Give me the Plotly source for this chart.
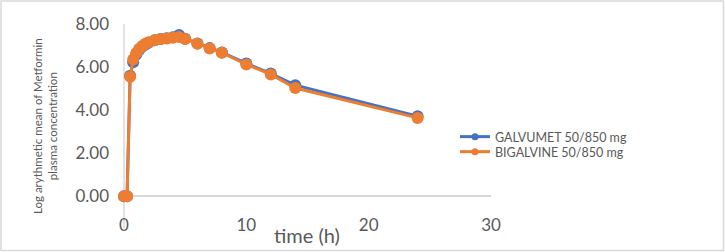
import plotly.graph_objects as go

time_h = [0, 0.25, 0.5, 0.75, 1, 1.25, 1.5, 1.75, 2, 2.5, 3, 3.5, 4, 4.5, 5, 6, 7, 8, 10, 12, 14, 24]
galvumet = [0, 0, 5.60, 6.22, 6.58, 6.80, 6.95, 7.05, 7.13, 7.24, 7.30, 7.34, 7.38, 7.49, 7.32, 7.10, 6.88, 6.68, 6.17, 5.70, 5.16, 3.72]
bigalvine = [0, 0, 5.55, 6.35, 6.65, 6.85, 6.98, 7.08, 7.15, 7.25, 7.30, 7.33, 7.36, 7.40, 7.30, 7.08, 6.86, 6.67, 6.12, 5.66, 5.03, 3.64]
series_names = ["GALVUMET 50/850 mg", "BIGALVINE 50/850 mg"]
x_ticks = [0, 10, 20, 30]
y_ticks = [0, 2, 4, 6, 8]

BLUE = "#4472C4"
ORANGE = "#ED7D31"
GRAY = "#595959"
LINE = "#D9D9D9"
FONT = "Lato"

W, H = 725, 252
L, R, T, B = 124, 234, 24, 46
pw, ph = W - L - R, H - T - B

def px_x(p):
    return (p - L) / pw

def px_y(p):
    return (H - B - p) / ph

fig = go.Figure()
for vals, name, col in [(galvumet, series_names[0], BLUE), (bigalvine, series_names[1], ORANGE)]:
    fig.add_trace(go.Scatter(
        x=time_h, y=vals, mode="lines+markers", name=name, showlegend=False,
        line=dict(color=col, width=3), marker=dict(color=col, size=12),
        cliponaxis=False,
    ))
for name, col, lg in [(series_names[0], BLUE, "legend"), (series_names[1], ORANGE, "legend2")]:
    fig.add_trace(go.Scatter(
        x=[None], y=[None], mode="lines+markers", name=name, legend=lg,
        line=dict(color=col, width=3), marker=dict(color=col, size=7),
    ))

leg_common = dict(xanchor="left", yanchor="top", font=dict(size=12.5, color=GRAY),
                  bgcolor="rgba(0,0,0,0)", itemwidth=30)

fig.update_layout(
    width=W, height=H,
    margin=dict(l=L, r=R, t=T, b=B),
    paper_bgcolor="white", plot_bgcolor="white",
    font=dict(family=FONT, color=GRAY),
    xaxis=dict(range=[0, 30], tickvals=x_ticks, showgrid=False, zeroline=False,
               showline=False, ticks="", tickfont=dict(size=17, color=GRAY),
               ticklabelstandoff=7),
    yaxis=dict(range=[-0.45, 8], tickvals=y_ticks, tickformat=".2f", showgrid=False,
               zeroline=True, zerolinecolor=LINE, zerolinewidth=1.5,
               showline=False, ticks="", tickfont=dict(size=17, color=GRAY),
               ticklabelstandoff=14),
    legend=dict(x=px_x(455), y=px_y(122), **leg_common),
    legend2=dict(x=px_x(455), y=px_y(137), **leg_common),
    showlegend=True,
)

fig.add_shape(type="line", xref="paper", yref="paper",
              x0=0, x1=0, y0=px_y(228), y1=1,
              line=dict(color=LINE, width=1.5), layer="below")
fig.add_shape(type="rect", xref="paper", yref="paper",
              x0=px_x(1), x1=px_x(723.5), y0=px_y(250.5), y1=px_y(1),
              line=dict(color=LINE, width=1.5))

fig.add_annotation(text="Log arythmetic mean of Metformin<br>plasma concentration",
                   xref="paper", yref="paper", x=px_x(45), y=px_y(126),
                   xanchor="center", yanchor="middle", textangle=-90,
                   showarrow=False, font=dict(size=11.5, color=GRAY, family=FONT))
fig.add_annotation(text="time (h)", xref="paper", yref="paper",
                   x=px_x(307), y=px_y(235), xanchor="center", yanchor="middle",
                   showarrow=False, font=dict(size=20, color=GRAY, family=FONT))

fig.write_html("out.html")
